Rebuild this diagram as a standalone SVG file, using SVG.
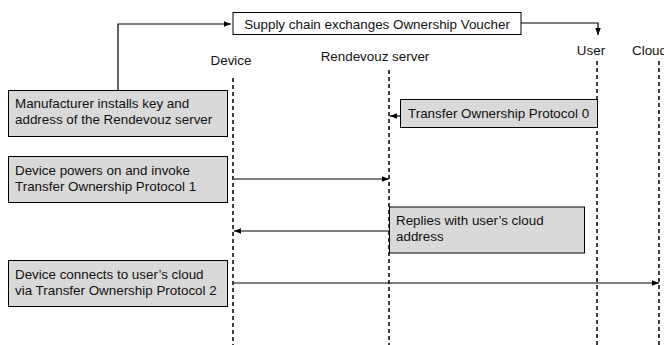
<svg xmlns="http://www.w3.org/2000/svg" width="664" height="345" viewBox="0 0 664 345">
<style>
text{font-family:"Liberation Sans",Arial,sans-serif;font-size:13.4px;fill:#111}
.box{fill:#d9d9d9;stroke:#000;stroke-width:1}
.wbox{fill:#fff;stroke:#000;stroke-width:1}
.life{stroke:#000;stroke-width:1.5;stroke-dasharray:4 3;fill:none}
.conn{stroke:#000;stroke-width:1.2;fill:none}
.lbl{text-anchor:middle}
</style>
<defs>
<marker id="ah" viewBox="0 0 10 10" refX="10" refY="5" markerWidth="7" markerHeight="7" markerUnits="userSpaceOnUse" orient="auto">
<path d="M0,1 L10,5 L0,9 z" fill="#000"/>
</marker>
</defs>
<rect width="664" height="345" fill="#fff"/>
<g id="lifelines">
<line class="life" x1="233" y1="78" x2="233" y2="345"/>
<line class="life" x1="389" y1="70" x2="389" y2="345"/>
<line class="life" x1="597" y1="61" x2="597" y2="345"/>
<line class="life" x1="659" y1="61" x2="659" y2="345"/>
</g>
<g id="actor-labels">
<text x="231" y="65" class="lbl">Device</text>
<text x="375" y="61" class="lbl">Rendevouz server</text>
<text x="591" y="55" class="lbl">User</text>
<text x="632" y="55">Cloud</text>
</g>
<g id="connectors">
<polyline class="conn" points="118,90 118,24 231,24" marker-end="url(#ah)"/>
<polyline class="conn" points="521,23 598,23 598,35" marker-end="url(#ah)"/>
<line class="conn" x1="401" y1="116" x2="390" y2="116" marker-end="url(#ah)"/>
<line class="conn" x1="234" y1="179" x2="389" y2="179" marker-end="url(#ah)"/>
<line class="conn" x1="389" y1="231" x2="234" y2="231" marker-end="url(#ah)"/>
<line class="conn" x1="234" y1="283" x2="659" y2="283" marker-end="url(#ah)"/>
</g>
<g id="supply">
<rect class="wbox" x="233" y="12.5" width="288" height="22"/>
<text x="377" y="28.5" class="lbl">Supply chain exchanges Ownership Voucher</text>
</g>
<g id="manufacturer">
<rect class="box" x="8.5" y="90.5" width="219" height="46"/>
<text x="15" y="108">Manufacturer installs key and</text>
<text x="15" y="124">address of the Rendevouz server</text>
</g>
<g id="top0">
<rect class="box" x="400.5" y="99.5" width="197" height="28"/>
<text x="408" y="118">Transfer Ownership Protocol 0</text>
</g>
<g id="powers">
<rect class="box" x="8.5" y="156.5" width="219" height="46"/>
<text x="15" y="175">Device powers on and invoke</text>
<text x="15" y="191">Transfer Ownership Protocol 1</text>
</g>
<g id="replies">
<rect class="box" x="389.5" y="207" width="195" height="46"/>
<text x="396" y="225">Replies with user’s cloud</text>
<text x="396" y="241">address</text>
</g>
<g id="connects">
<rect class="box" x="8.5" y="260.5" width="219" height="46"/>
<text x="15" y="279">Device connects to user’s cloud</text>
<text x="15" y="295">via Transfer Ownership Protocol 2</text>
</g>
</svg>
